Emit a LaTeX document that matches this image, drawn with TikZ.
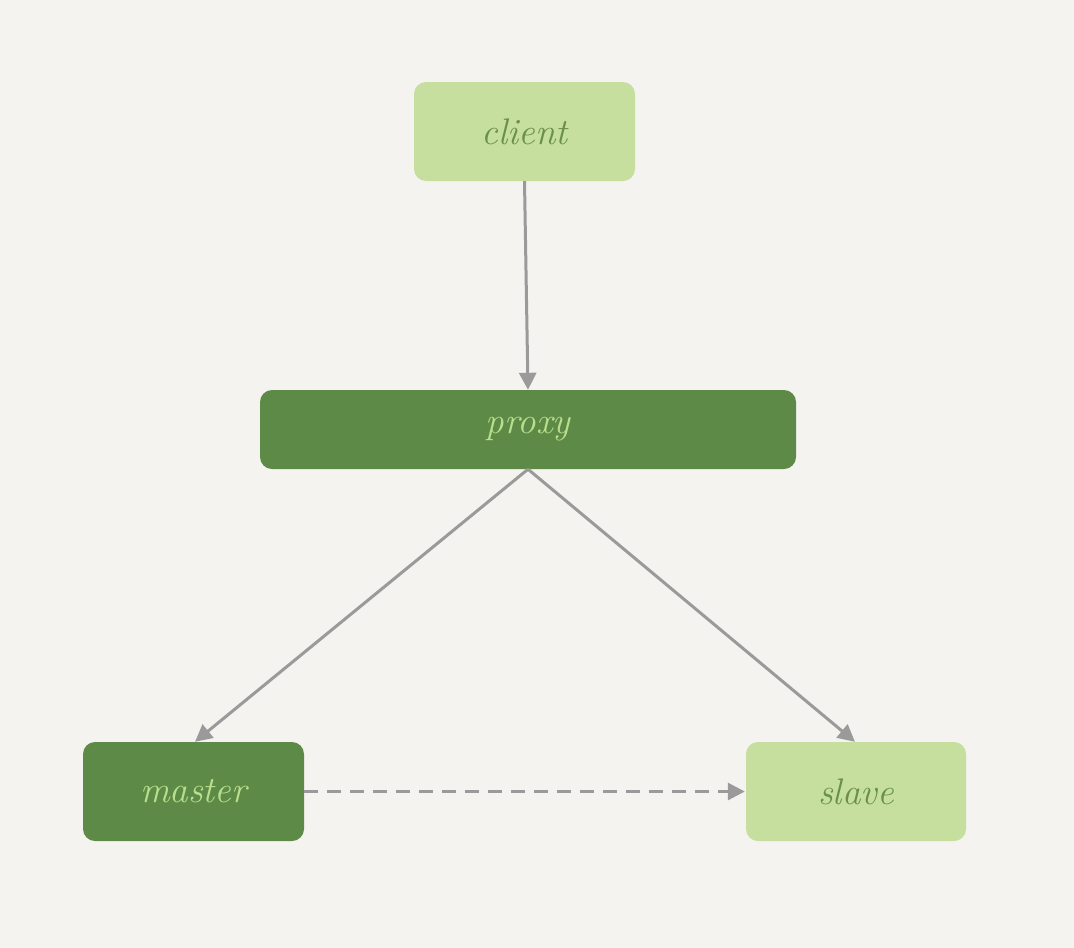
\documentclass[tikz,border=0pt]{standalone}
\usetikzlibrary{arrows.meta}
\definecolor{bgc}{HTML}{F4F3EF}
\definecolor{lightg}{HTML}{C6DF9E}
\definecolor{darkg}{HTML}{5E8A48}
\definecolor{lighttext}{HTML}{B9DF8C}
\definecolor{darktext}{HTML}{6A8F4D}
\definecolor{linec}{HTML}{9A9A9A}
\tikzset{
  box/.style={rounded corners=12pt, inner sep=0pt, font=\fontsize{37}{44}\selectfont\itshape},
  lightbox/.style={box, fill=lightg, text=darktext},
  darkbox/.style={box, fill=darkg, text=lighttext},
  conn/.style={draw=linec, line width=3pt, -{Triangle[length=17pt,width=17pt]}},
}
\begin{document}
\begin{tikzpicture}[x=1pt,y=-1pt]
\fill[bgc] (0,0) rectangle (1074,948);
\useasboundingbox (0,0) rectangle (1074,948);
\node[lightbox, minimum width=221pt, minimum height=99pt] (client) at (524.5,131.5) {client};
\node[darkbox, minimum width=536pt, minimum height=79pt] (proxy) at (528,429.5) {proxy};
\node[darkbox, minimum width=221pt, minimum height=99pt] (master) at (193.5,791.5) {master};
\node[lightbox, minimum width=220pt, minimum height=99pt] (slave) at (856,791.5) {slave};
\draw[conn] (client.south) -- (proxy.north);
\draw[conn] (proxy.south) -- ([xshift=1.5pt]master.north);
\draw[conn] (proxy.south) -- ([xshift=-1pt]slave.north);
\draw[conn, dash pattern=on 14pt off 9pt] (master.east) -- ([xshift=-1pt]slave.west);
\end{tikzpicture}
\end{document}
